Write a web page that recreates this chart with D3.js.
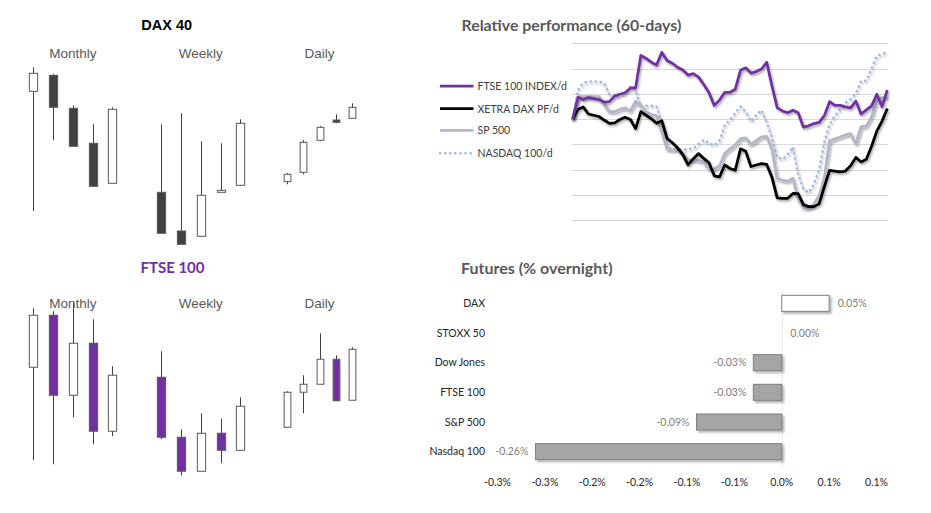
<!DOCTYPE html>
<html><head><meta charset="utf-8">
<script src="https://cdn.jsdelivr.net/npm/d3@7"></script>
<style>body{margin:0;background:#fff} svg{display:block}</style>
</head><body>
<svg id="chart" width="931" height="513"></svg>
<script>
// ---------------- DATA ----------------
const timeframes = ["Monthly", "Weekly", "Daily"];
// candles: [open, high, low, close]
const daxMonthly = [[16587,16827,15390,16767],[16747,16760,16097,16427],[16417,16447,16037,16037],[16067,16257,15637,15637],[15667,16427,15667,16407]];
const daxWeekly  = [[15577,16257,15167,15167],[15190,16367,15057,15057],[15137,16087,15137,15547],[15577,16067,15577,15597],[15647,16307,15647,16267]];
const daxDaily   = [[15683,15770,15657,15757],[15777,16100,15757,16077],[16097,16240,16087,16227],[16300,16357,16267,16277],[16317,16467,16317,16427]];
const ftseMonthly = [[7451,7687,7079,7659],[7659,7675,7063,7339],[7339,7707,7251,7547],[7547,7643,7143,7195],[7195,7455,7175,7419]];
const ftseWeekly  = [[7411,7515,7163,7171],[7171,7203,7019,7035],[7035,7267,7035,7187],[7187,7245,7067,7119],[7119,7331,7119,7295]];
const ftseDaily   = [[7211,7355,7211,7351],[7351,7419,7267,7383],[7383,7587,7383,7483],[7483,7499,7317,7317],[7319,7531,7319,7523]];

// relative performance (60 days), % change from start
const perfSeries = ["FTSE 100 INDEX/d", "XETRA DAX PF/d", "SP 500", "NASDAQ 100/d"];
const ftsePerf = [0,0.86,0.77,0.85,0.81,0.77,0.67,0.69,0.92,0.98,1.04,1.22,1.24,2.52,2.40,2.25,2.14,2.64,2.32,2.21,2.05,1.94,1.74,1.80,1.66,1.37,1.04,0.54,0.75,1.06,1.06,1.18,1.93,2.03,1.82,1.88,1.98,2.25,1.32,0.45,0.32,0.25,0.35,0.25,-0.32,-0.27,-0.18,-0.13,0.14,0.69,0.54,0.54,0.48,0.44,0.71,0.20,0.36,0.52,0.98,0.49,1.15];
const daxPerf = [0,0.38,0.48,0.20,0.15,0.10,-0.04,-0.17,-0.15,-0.02,0.07,-0.02,-0.38,0.29,0.15,0.01,-0.17,-0.07,-0.77,-0.94,-1.14,-1.41,-1.82,-1.57,-1.37,-1.56,-1.73,-2.25,-2.29,-1.82,-1.96,-2.03,-1.18,-1.28,-1.88,-1.82,-1.77,-1.80,-2.31,-3.12,-3.14,-3.14,-2.95,-2.96,-3.39,-3.47,-3.47,-3.36,-2.67,-2.03,-2.06,-2.09,-2.06,-1.85,-1.52,-1.70,-1.59,-1.08,-0.48,-0.08,0.42];
const spPerf = [0,0.89,0.89,0.90,0.89,0.89,0.60,0.29,0.29,0.38,0.44,0.32,0.71,0.53,0.29,0.18,0.13,-0.52,-1.18,-1.22,-1.20,-1.37,-1.62,-1.62,-1.64,-1.70,-1.98,-1.97,-1.85,-1.36,-1.18,-1.02,-0.78,-0.75,-1.00,-0.86,-0.71,-0.69,-1.20,-2.36,-2.42,-2.46,-2.34,-3.17,-3.51,-3.53,-3.37,-3.04,-2.32,-0.86,-0.78,-0.71,-0.63,-0.58,-0.98,-0.30,-0.28,0.09,0.74,0.85,0.89];
const nasdaqPerf = [0,1.15,1.43,1.49,1.49,1.49,1.41,0.96,0.86,0.95,1.08,1.29,1.15,0.48,0.53,0.53,0.49,-0.11,-1.16,-1.16,-1.21,-1.21,-1.19,-1.16,-0.99,-0.82,-0.96,-1.04,-0.85,-0.24,-0.03,0.24,0.50,0.28,-0.09,0.15,0.36,-0.13,-0.73,-1.51,-1.59,-1.40,-1.10,-2.18,-2.77,-2.91,-2.58,-1.98,-0.90,-0.20,0.13,0.39,0.64,0.79,1.02,1.50,1.52,1.99,2.50,2.59,2.64];
const perfGrid = [3,2,1,0,-1,-2,-3,-4];

// futures (% overnight)
const futNames = ["DAX", "STOXX 50", "Dow Jones", "FTSE 100", "S&P 500", "Nasdaq 100"];
const futValues = [0.05, 0.00, -0.03, -0.03, -0.09, -0.26];
const futLabels = ["0.05%", "0.00%", "-0.03%", "-0.03%", "-0.09%", "-0.26%"];
const futTicks = [-0.30, -0.25, -0.20, -0.15, -0.10, -0.05, 0, 0.05, 0.10];
const futTickLabels = ["-0.3%", "-0.3%", "-0.2%", "-0.2%", "-0.1%", "-0.1%", "0.0%", "0.1%", "0.1%"];

// ---------------- DRAW ----------------
const svg = d3.select("#chart");
const defs = svg.append("defs");
const sh = defs.append("filter").attr("id", "shadow").attr("x", "-20%").attr("y", "-20%").attr("width", "140%").attr("height", "140%");
sh.append("feDropShadow").attr("dx", 1.2).attr("dy", 1.8).attr("stdDeviation", 1.2).attr("flood-color", "#000").attr("flood-opacity", 0.35);
const shb = defs.append("filter").attr("id", "barshadow").attr("x", "-10%").attr("y", "-30%").attr("width", "130%").attr("height", "180%");
shb.append("feDropShadow").attr("dx", 2).attr("dy", 2).attr("stdDeviation", 1.3).attr("flood-color", "#000").attr("flood-opacity", 0.3);

const sansArial = "'Liberation Sans', Arial, sans-serif";
const sansCal = "Lato, 'Open Sans', sans-serif";

// ---- candlestick panels ----
const panelX = [[33.3, 112.3], [161.3, 240.3], [287.3, 351.7]];
const rows = [
  { title: "DAX 40", titleColor: "#000", titleFont: sansArial, titleSize: 14.5, titleX: 166.7, titleY: 29.5, subY: 57.5,
    y: d3.scaleLinear().domain([15000, 17000]).range([250, 50]),
    data: [daxMonthly, daxWeekly, daxDaily], downFill: "#404040" },
  { title: "FTSE 100", titleColor: "#7030A0", titleFont: sansCal, titleSize: 15, titleX: 172.5, titleY: 272.5, subY: 307.5,
    y: d3.scaleLinear().domain([7000, 7800]).range([480, 280]),
    data: [ftseMonthly, ftseWeekly, ftseDaily], downFill: "#7030A0" }
];

rows.forEach(row => {
  svg.append("text").attr("x", row.titleX).attr("y", row.titleY).attr("text-anchor", "middle")
    .attr("font-family", row.titleFont).attr("font-weight", "bold").attr("font-size", row.titleSize)
    .attr("fill", row.titleColor).text(row.title);
  row.data.forEach((candles, k) => {
    const x = d3.scalePoint().domain(d3.range(candles.length)).range(panelX[k]);
    const bw = x.step() * 0.42;
    svg.append("text").attr("x", (panelX[k][0] + panelX[k][1]) / 2).attr("y", row.subY)
      .attr("text-anchor", "middle").attr("font-family", sansArial).attr("font-size", 13.5)
      .attr("fill", "#595959").text(timeframes[k]);
    const g = svg.append("g");
    candles.forEach((d, i) => {
      const [o, h, l, c] = d;
      const cx = Math.round(x(i)) + 0.5;
      g.append("line").attr("x1", cx).attr("x2", cx).attr("y1", row.y(h)).attr("y2", row.y(l))
        .attr("stroke", "#404040").attr("stroke-width", 1);
      const top = row.y(Math.max(o, c)), bot = row.y(Math.min(o, c));
      g.append("rect").attr("x", cx - bw / 2).attr("y", top).attr("width", bw)
        .attr("height", Math.max(bot - top, 1.5))
        .attr("fill", c >= o ? "#fff" : row.downFill).attr("stroke", "#595959").attr("stroke-width", 1);
    });
  });
});

// ---- relative performance ----
const px = d3.scaleLinear().domain([0, 60]).range([572.7, 887.3]);
const py = d3.scaleLinear().domain([-4, 3]).range([220, 43.3]);
svg.append("text").attr("x", 461.5).attr("y", 30.5).attr("font-family", sansCal).attr("font-weight", "bold")
  .attr("font-size", 15.9).attr("fill", "#595959").text("Relative performance (60-days)");
svg.append("g").selectAll("line").data(perfGrid).join("line")
  .attr("x1", 571.7).attr("x2", 888.3).attr("y1", d => Math.round(py(d)) + 0.5).attr("y2", d => Math.round(py(d)) + 0.5)
  .attr("stroke", "#d9d9d9").attr("stroke-width", 1);

const perfStyles = [
  { data: ftsePerf, color: "#7030A0", width: 2.75, dash: null },
  { data: daxPerf, color: "#000000", width: 2.75, dash: null },
  { data: spPerf, color: "#b3b6c8", width: 2.75, dash: null },
  { data: nasdaqPerf, color: "#9ab6dd", width: 2.5, dash: "0.1 5" }
];
const line = d3.line().x((d, i) => px(i)).y(d => py(d));
[3, 2, 1, 0].forEach(k => {
  const s = perfStyles[k];
  svg.append("path").datum(s.data).attr("d", line).attr("fill", "none")
    .attr("stroke", s.color).attr("stroke-width", s.width)
    .attr("stroke-linejoin", "round").attr("stroke-linecap", s.dash ? "round" : "butt")
    .attr("stroke-dasharray", s.dash).attr("filter", "url(#shadow)");
});
// legend
const legY = [86, 108.7, 130.3, 153.3];
perfSeries.forEach((name, k) => {
  const s = perfStyles[k];
  svg.append("line").attr("x1", 440).attr("x2", 473.5).attr("y1", legY[k]).attr("y2", legY[k])
    .attr("stroke", s.color).attr("stroke-width", s.width)
    .attr("stroke-linecap", s.dash ? "round" : "butt").attr("stroke-dasharray", s.dash);
  svg.append("text").attr("x", 477.5).attr("y", legY[k] + 4).attr("font-family", sansCal)
    .attr("font-size", 10.5).attr("fill", "#404040").text(name);
});

// ---- futures ----
const fx = d3.scaleLinear().domain([-0.30, 0.10]).range([497.5, 876.5]);
const fy = d3.scaleBand().domain(futNames).range([288.5, 466.5]).paddingInner(0.46).paddingOuter(0.23);
svg.append("text").attr("x", 461).attr("y", 273.5).attr("font-family", sansCal).attr("font-weight", "bold")
  .attr("font-size", 16).attr("fill", "#595959").text("Futures (% overnight)");
svg.append("line").attr("x1", Math.round(fx(0)) + 0.5).attr("x2", Math.round(fx(0)) + 0.5)
  .attr("y1", 289).attr("y2", 467).attr("stroke", "#ececec");
svg.append("g").selectAll("rect").data(futValues.map((v, i) => ({ v, i }))).join("rect")
  .filter(d => d.v !== 0)
  .attr("x", d => fx(Math.min(0, d.v))).attr("width", d => Math.abs(fx(d.v) - fx(0)))
  .attr("y", d => fy(futNames[d.i])).attr("height", fy.bandwidth())
  .attr("fill", d => d.v > 0 ? "#ffffff" : "#a5a5a5").attr("stroke", "#7f7f7f").attr("stroke-width", 1)
  .attr("filter", "url(#barshadow)");
futNames.forEach((n, i) => {
  const cy = fy(n) + fy.bandwidth() / 2;
  svg.append("text").attr("x", 485).attr("y", cy + 3.8).attr("text-anchor", "end")
    .attr("font-family", sansCal).attr("font-size", 10.5).attr("fill", "#262626").text(n);
  const v = futValues[i];
  svg.append("text")
    .attr("x", v >= 0 ? fx(v) + 8.5 : fx(v) - 7)
    .attr("y", cy + 3.8).attr("text-anchor", v >= 0 ? "start" : "end")
    .attr("font-family", sansCal).attr("font-size", 10.5).attr("fill", "#808080").text(futLabels[i]);
});
svg.append("g").selectAll("text").data(futTicks).join("text")
  .attr("x", d => fx(d)).attr("y", 485.5).attr("text-anchor", "middle")
  .attr("font-family", sansCal).attr("font-size", 10.5).attr("fill", "#262626")
  .text((d, i) => futTickLabels[i]);
</script>
</body></html>
